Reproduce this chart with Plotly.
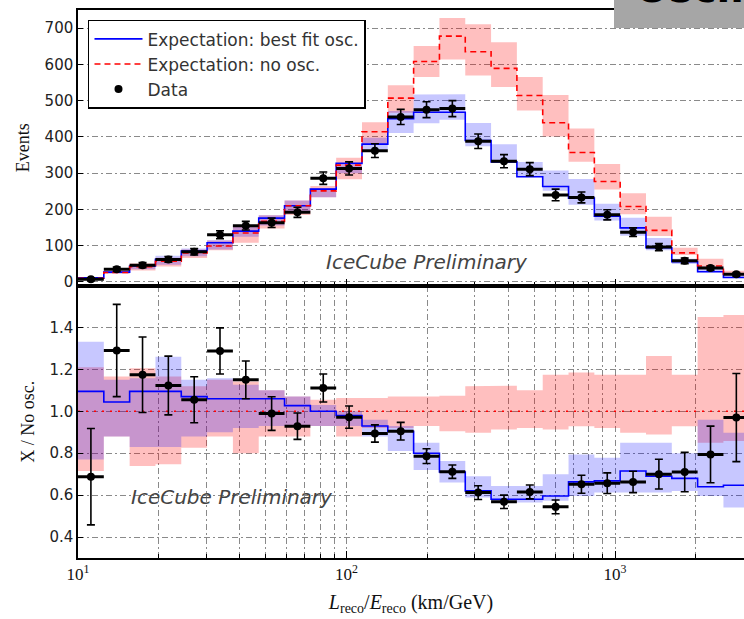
import numpy as np
import plotly.graph_objects as go

# ---- binning in log10(L/E) ----
log_edges = np.linspace(1.0, 3.5, 27)
edges = 10 ** log_edges
centers = 10 ** (0.5 * (log_edges[:-1] + log_edges[1:]))

# ---- upper panel: event counts ----
data_events = [7, 35, 46, 62, 83, 130, 155, 163, 192, 286, 313, 362, 455,
               475, 478, 388, 333, 311, 240, 233, 185, 137, 96, 58, 38, 21]
data_err = [4, 6, 7, 8, 9, 11, 12, 13, 14, 17, 18, 19, 21,
            22, 22, 20, 18, 18, 16, 15, 14, 12, 10, 8, 6, 5]
best_fit = [11, 27, 44, 62, 85, 108, 140, 176, 210, 256, 327, 380, 450,
            468, 468, 390, 331, 290, 263, 231, 181, 149, 94, 56, 28, 12]
no_osc = [10, 26, 42, 57, 80, 99, 135, 167, 210, 251, 322, 414, 507,
          608, 678, 635, 589, 514, 439, 357, 277, 208, 142, 80, 44, 21]

# ---- lower panel: ratio to no-oscillation expectation ----
ratio_data = [0.688, 1.29, 1.174, 1.123, 1.055, 1.288, 1.15, 0.989, 0.929,
              1.111, 0.972, 0.894, 0.905, 0.786, 0.712, 0.612, 0.568, 0.615,
              0.544, 0.652, 0.657, 0.663, 0.70, 0.71, 0.794, 0.97]
ratio_err = [0.23, 0.22, 0.18, 0.14, 0.11, 0.11, 0.09, 0.08, 0.063, 0.067,
             0.053, 0.041, 0.042, 0.035, 0.032, 0.033, 0.032, 0.033, 0.033,
             0.043, 0.049, 0.051, 0.071, 0.094, 0.135, 0.21]
ratio_best = [1.095, 1.044, 1.095, 1.095, 1.07, 1.06, 1.06, 1.06, 1.027,
              1.0, 0.98, 0.93, 0.905, 0.80, 0.71, 0.62, 0.58, 0.58, 0.596,
              0.663, 0.668, 0.715, 0.69, 0.68, 0.64, 0.647]
ratio_noosc = [1.0] * 26

# systematic uncertainty bands (relative to no-osc expectation)
red_hi = [1.21, 1.166, 1.205, 1.166, 1.119, 1.15, 1.142, 1.10, 1.07, 1.055,
          1.063, 1.063, 1.07, 1.07, 1.074, 1.119, 1.122, 1.10, 1.174, 1.185,
          1.174, 1.174, 1.264, 1.174, 1.45, 1.459]
red_lo = [0.715, 0.88, 0.739, 0.747, 0.826, 0.88, 0.80, 0.88, 0.88, 0.93,
          0.88, 0.92, 0.92, 0.93, 0.905, 0.897, 0.913, 0.92, 0.913, 0.929,
          0.92, 0.897, 0.889, 0.929, 0.85, 0.858]
blue_hi = [1.332, 1.15, 1.158, 1.26, 1.15, 1.158, 1.127, 1.10, 1.07, 1.03,
           1.0, 0.96, 0.93, 0.85, 0.763, 0.69, 0.644, 0.644, 0.70, 0.794,
           0.778, 0.85, 0.85, 0.80, 0.96, 0.897]
blue_lo = [0.77, 0.88, 0.83, 0.83, 0.88, 0.90, 0.92, 0.93, 0.93, 0.93,
           0.93, 0.88, 0.81, 0.72, 0.66, 0.589, 0.565, 0.565, 0.573, 0.596,
           0.612, 0.612, 0.612, 0.62, 0.596, 0.541]

BLUE = "#0000ff"
RED = "#ff0000"
BLUE_FILL = "rgba(0,0,255,0.22)"
RED_FILL = "rgba(255,0,0,0.25)"
GRID = "#8a8a8a"
DASHDOT = "6px,3px,2px,3px"
SERIF = "Liberation Serif, DejaVu Serif, serif"
SANS = "DejaVu Sans, sans-serif"


def step_xy(vals):
    return list(edges), list(vals) + [vals[-1]]


def band_xy(lo, hi):
    xs, ys = [], []
    for i in range(len(hi)):
        xs += [edges[i], edges[i + 1]]
        ys += [hi[i], hi[i]]
    for i in reversed(range(len(lo))):
        xs += [edges[i + 1], edges[i]]
        ys += [lo[i], lo[i]]
    return xs, ys


fig = go.Figure()

# ---------- upper panel ----------
top_red_lo = [n * r for n, r in zip(no_osc, red_lo)]
top_red_hi = [n * r for n, r in zip(no_osc, red_hi)]
top_blue_lo = [n * r for n, r in zip(no_osc, blue_lo)]
top_blue_hi = [n * r for n, r in zip(no_osc, blue_hi)]

bx, by = band_xy(top_red_lo, top_red_hi)
fig.add_trace(go.Scatter(x=bx, y=by, fill="toself", fillcolor=RED_FILL,
                         line=dict(width=0), mode="lines", hoverinfo="skip",
                         showlegend=False, xaxis="x2", yaxis="y2"))
bx, by = band_xy(top_blue_lo, top_blue_hi)
fig.add_trace(go.Scatter(x=bx, y=by, fill="toself", fillcolor=BLUE_FILL,
                         line=dict(width=0), mode="lines", hoverinfo="skip",
                         showlegend=False, xaxis="x2", yaxis="y2"))

sx, sy = step_xy(best_fit)
fig.add_trace(go.Scatter(x=sx, y=sy, mode="lines", line_shape="hv",
                         line=dict(color=BLUE, width=1.6),
                         name="Expectation: best fit osc.", legendgroup="a",
                         xaxis="x2", yaxis="y2"))
sx, sy = step_xy(no_osc)
fig.add_trace(go.Scatter(x=sx, y=sy, mode="lines", line_shape="hv",
                         line=dict(color=RED, width=1.6, dash="6px,4px"),
                         name="Expectation: no osc.", legendgroup="b",
                         xaxis="x2", yaxis="y2"))

xerr_hi = list(edges[1:] - centers)
xerr_lo = list(centers - edges[:-1])

fig.add_trace(go.Scatter(
    x=centers, y=data_events, mode="markers",
    marker=dict(color="black", size=8, symbol="circle"),
    error_y=dict(type="data", array=data_err, color="black", thickness=1.6, width=4),
    error_x=dict(type="data", symmetric=False, array=xerr_hi, arrayminus=xerr_lo,
                 color="black", thickness=3, width=0),
    name="Data", legendgroup="c", xaxis="x2", yaxis="y2"))

# ---------- lower panel ----------
bx, by = band_xy(red_lo, red_hi)
fig.add_trace(go.Scatter(x=bx, y=by, fill="toself", fillcolor=RED_FILL,
                         line=dict(width=0), mode="lines", hoverinfo="skip",
                         showlegend=False, xaxis="x", yaxis="y"))
bx, by = band_xy(blue_lo, blue_hi)
fig.add_trace(go.Scatter(x=bx, y=by, fill="toself", fillcolor=BLUE_FILL,
                         line=dict(width=0), mode="lines", hoverinfo="skip",
                         showlegend=False, xaxis="x", yaxis="y"))

sx, sy = step_xy(ratio_noosc)
fig.add_trace(go.Scatter(x=sx, y=sy, mode="lines", line_shape="hv",
                         line=dict(color=RED, width=1.6, dash="2px,6px"),
                         showlegend=False, xaxis="x", yaxis="y"))
sx, sy = step_xy(ratio_best)
fig.add_trace(go.Scatter(x=sx, y=sy, mode="lines", line_shape="hv",
                         line=dict(color=BLUE, width=1.6),
                         showlegend=False, xaxis="x", yaxis="y"))

fig.add_trace(go.Scatter(
    x=centers, y=ratio_data, mode="markers",
    marker=dict(color="black", size=8, symbol="circle"),
    error_y=dict(type="data", array=ratio_err, color="black", thickness=1.6, width=4),
    error_x=dict(type="data", symmetric=False, array=xerr_hi, arrayminus=xerr_lo,
                 color="black", thickness=3, width=0),
    showlegend=False, xaxis="x", yaxis="y"))

# ---------- axes ----------
x_range = [1.0, 1.0 + 666 / 268.5]
minor_vals = [m * 10 ** d for d in (1, 2, 3) for m in range(2, 10)]
split = 1 - 275.5 / 548

axis_line = dict(showline=True, linecolor="black", linewidth=1.5)

fig.update_layout(
    width=744, height=619,
    margin=dict(l=78, r=0, t=10, b=61),
    paper_bgcolor="white", plot_bgcolor="white",
    xaxis=dict(type="log", range=x_range, domain=[0, 1], anchor="y",
               mirror=True, **axis_line,
               tickvals=[10, 100, 1000],
               ticktext=["10<sup>1</sup>", "10<sup>2</sup>", "10<sup>3</sup>"],
               ticks="inside", ticklen=7, tickcolor="black", tickwidth=1.2,
               tickfont=dict(family=SERIF, size=17, color="#111"),
               showgrid=True, gridcolor=GRID, gridwidth=1, griddash=DASHDOT,
               minor=dict(tickvals=minor_vals, ticks="inside", ticklen=4,
                          tickcolor="black", showgrid=True, gridcolor=GRID,
                          gridwidth=1, griddash=DASHDOT),
               title=dict(text="<i>L</i><sub>reco</sub>/<i>E</i><sub>reco</sub> (km/GeV)",
                          font=dict(family=SERIF, size=20, color="#111"), standoff=12),
               zeroline=False),
    xaxis2=dict(type="log", range=x_range, domain=[0, 1], anchor="y2",
                matches="x", mirror=True, **axis_line,
                tickvals=[10, 100, 1000], showticklabels=False,
                ticks="inside", ticklen=7, tickcolor="black", tickwidth=1.2,
                showgrid=False,
                minor=dict(tickvals=minor_vals, ticks="inside", ticklen=4,
                           tickcolor="black", showgrid=False),
                zeroline=False),
    yaxis=dict(domain=[0, split], range=[0.3, 1.6], anchor="x",
               **axis_line, mirror=False,
               tickvals=[0.4, 0.6, 0.8, 1.0, 1.2, 1.4],
               ticktext=["0.4", "0.6", "0.8", "1.0", "1.2", "1.4"],
               ticks="inside", ticklen=5, tickcolor="black",
               tickfont=dict(family=SANS, size=15, color="#222"),
               showgrid=True, gridcolor=GRID, gridwidth=1, griddash=DASHDOT,
               zeroline=False,
               title=dict(text="X / No osc.", font=dict(family=SERIF, size=18, color="#111"),
                          standoff=10)),
    yaxis2=dict(domain=[split, 1], range=[-10, 750], anchor="x2",
                **axis_line, mirror=False,
                tickvals=[0, 100, 200, 300, 400, 500, 600, 700],
                ticks="inside", ticklen=5, tickcolor="black",
                tickfont=dict(family=SANS, size=15, color="#222"),
                showgrid=True, gridcolor=GRID, gridwidth=1, griddash=DASHDOT,
                zeroline=False,
                title=dict(text="Events", font=dict(family=SERIF, size=18, color="#111"),
                           standoff=10)),
    legend=dict(x=0.015, y=0.982, xanchor="left", yanchor="top",
                bgcolor="white", bordercolor="black", borderwidth=1.5,
                font=dict(family=SANS, size=17, color="#333"),
                traceorder="grouped", tracegroupgap=0, itemwidth=48),
    showlegend=True,
)

# watermark labels
fig.add_annotation(text="<i>IceCube Preliminary</i>", xref="paper", yref="paper",
                   x=(427 - 78) / 666, y=1 - (262 - 10) / 548, showarrow=False,
                   font=dict(family=SANS, size=20, color="#444"),
                   xanchor="center", yanchor="middle")
fig.add_annotation(text="<i>IceCube Preliminary</i>", xref="paper", yref="paper",
                   x=(232 - 78) / 666, y=1 - (497 - 10) / 548, showarrow=False,
                   font=dict(family=SANS, size=20, color="#444"),
                   xanchor="center", yanchor="middle")

# grey header box in the corner
fig.add_shape(type="rect", xref="paper", yref="paper",
              x0=(614 - 78) / 666, x1=1.05, y0=1 - 18 / 548, y1=1.05,
              fillcolor="#a6a6a6", line=dict(width=0), layer="above")
fig.add_annotation(text="<b>Oscillations</b>", xref="paper", yref="paper",
                   x=(633 - 78) / 666, y=1 - 3 / 548, xanchor="left", yanchor="bottom",
                   showarrow=False, font=dict(family=SANS, size=40, color="black"))

fig.write_html("out.html")
